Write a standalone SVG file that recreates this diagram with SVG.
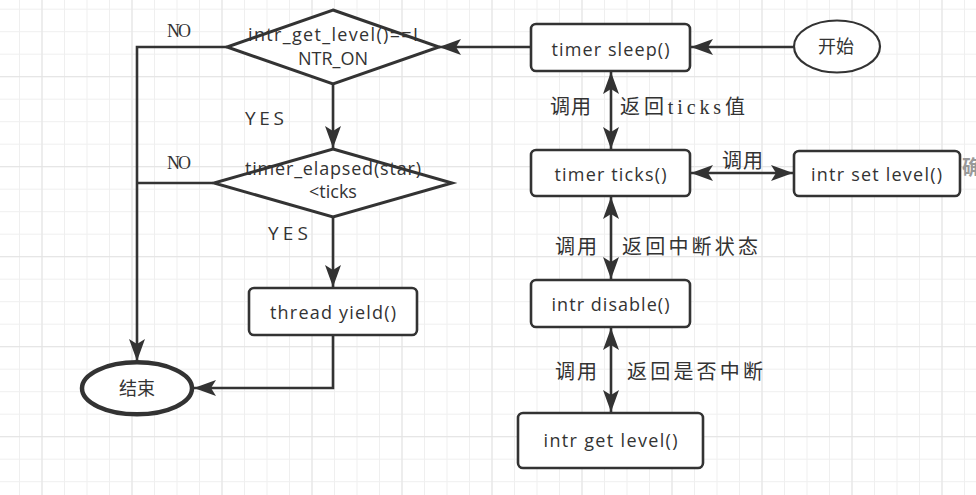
<svg xmlns="http://www.w3.org/2000/svg" width="976" height="495" viewBox="0 0 976 495">
<defs>
<pattern id="gMinor" x="19" y="8.7" width="22.5" height="22.5" patternUnits="userSpaceOnUse"><path d="M0.5,0 V22.5 M0,0.5 H22.5" stroke="#efefef" stroke-width="1" fill="none"/></pattern>
<pattern id="gMajor" x="41.5" y="76.2" width="90" height="90" patternUnits="userSpaceOnUse"><path d="M0.5,0 V90 M0,0.5 H90" stroke="#e3e3e3" stroke-width="1" fill="none"/></pattern>
<marker id="arr" viewBox="0 0 22 16" refX="22" refY="8" markerWidth="22" markerHeight="16" markerUnits="userSpaceOnUse" orient="auto-start-reverse"><path d="M22,8 L0,0 L5,8 L0,16 Z" fill="#333"/></marker>
<style>
.box{fill:#fff;stroke:#333;stroke-width:2.6}
.dia{fill:#fff;stroke:#333;stroke-width:3}
.con{fill:none;stroke:#333;stroke-width:2.6}
.t{font-family:"Open Sans","Noto Sans CJK SC",sans-serif;font-size:18px;fill:#333;text-anchor:middle}
.lab{font-family:"Liberation Serif","Noto Sans CJK SC",serif;font-size:20px;fill:#333}
.no{font-family:"Liberation Serif",serif;font-size:18px;fill:#333}
.yes{font-family:"Open Sans",sans-serif;font-size:19px;fill:#333}
</style>
</defs>
<rect width="976" height="495" fill="#fff"/>
<rect width="976" height="495" fill="url(#gMinor)"/>
<rect width="976" height="495" fill="url(#gMajor)"/>

<g id="connectors">
<line class="con" x1="793" y1="47" x2="691" y2="47" marker-end="url(#arr)"/>
<line class="con" x1="531" y1="47" x2="439" y2="47" marker-end="url(#arr)"/>
<line class="con" x1="333" y1="84" x2="333" y2="148" marker-end="url(#arr)"/>
<polyline class="con" points="227,47 137,47 137,361" marker-end="url(#arr)"/>
<line class="con" x1="213" y1="183" x2="137" y2="183"/>
<line class="con" x1="333" y1="217" x2="333" y2="287" marker-end="url(#arr)"/>
<polyline class="con" points="333,335 333,388 194,388" marker-end="url(#arr)"/>
<line class="con" x1="611" y1="72" x2="611" y2="149" marker-start="url(#arr)" marker-end="url(#arr)"/>
<line class="con" x1="691" y1="173" x2="793" y2="173" marker-start="url(#arr)" marker-end="url(#arr)"/>
<line class="con" x1="611" y1="197" x2="611" y2="279" marker-start="url(#arr)" marker-end="url(#arr)"/>
<line class="con" x1="611" y1="328" x2="611" y2="412" marker-start="url(#arr)" marker-end="url(#arr)"/>
<text class="no" x="167" y="37" textLength="24">NO</text>
<text class="no" x="167" y="169" textLength="24">NO</text>
<text class="yes" x="245" y="125" textLength="39">YES</text>
<text class="yes" x="268" y="240" textLength="40">YES</text>
<text class="lab" x="550" y="114" textLength="41">调用</text>
<text class="lab" x="620" y="114" textLength="125">返回ticks值</text>
<text class="lab" x="722" y="168" textLength="41">调用</text>
<text class="lab" x="555" y="254" textLength="42">调用</text>
<text class="lab" x="622" y="254" textLength="136">返回中断状态</text>
<text class="lab" x="555" y="379" textLength="42">调用</text>
<text class="lab" x="627" y="379" textLength="136">返回是否中断</text>
</g>

<g id="start">
<ellipse cx="837" cy="46.5" rx="43" ry="26" fill="#fff" stroke="#333" stroke-width="2.2"/>
<text class="t" x="836" y="53" font-size="19">开始</text>
</g>
<g id="timer_sleep">
<rect class="box" x="531" y="24" width="159" height="47" rx="5"/>
<text class="t" x="610.5" y="56" textLength="118">timer sleep()</text>
</g>
<g id="timer_ticks">
<rect class="box" x="531" y="150" width="159" height="46" rx="5"/>
<text class="t" x="610.5" y="181" textLength="112">timer ticks()</text>
</g>
<g id="intr_set_level">
<rect class="box" x="794" y="151" width="166" height="45" rx="5"/>
<text class="t" x="876.5" y="181" textLength="131">intr set level()</text>
</g>
<g id="intr_disable">
<rect class="box" x="531" y="280" width="159" height="47" rx="5"/>
<text class="t" x="610.5" y="311" textLength="118">intr disable()</text>
</g>
<g id="intr_get_level">
<rect class="box" x="518" y="413" width="185" height="55" rx="5"/>
<text class="t" x="610.5" y="447" textLength="134">intr get level()</text>
</g>
<g id="cond_level">
<polygon class="dia" points="333,10 439,47 333,84 227,47"/>
<text class="t" x="333" y="41" textLength="170">intr_get_level()==I</text>
<text class="t" x="333" y="65">NTR_ON</text>
</g>
<g id="cond_elapsed">
<polygon class="dia" points="333,149 452,183 333,217 214,183"/>
<text class="t" x="333" y="175" textLength="176">timer_elapsed(star)</text>
<text class="t" x="333" y="198">&lt;ticks</text>
</g>
<g id="thread_yield">
<rect class="box" x="249" y="288" width="168" height="47" rx="5"/>
<text class="t" x="333" y="319" textLength="126">thread yield()</text>
</g>
<g id="end">
<ellipse cx="137" cy="388.3" rx="55" ry="26" fill="#fff" stroke="#333" stroke-width="4.5"/>
<text class="t" x="137" y="395" font-size="19">结束</text>
</g>
<text x="962" y="175" font-family="'Noto Sans CJK SC',sans-serif" font-size="20" font-weight="bold" fill="#999">确</text>
</svg>
